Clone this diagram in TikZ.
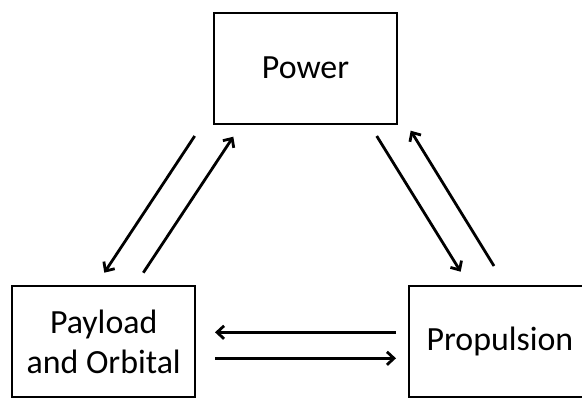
\documentclass[tikz,border=0pt]{standalone}
\usepackage{fontspec}
\setmainfont{Carlito}
\usetikzlibrary{arrows.meta}

\tikzstyle{subsystem}=[draw,line width=2bp,minimum width=183bp,
    minimum height=111bp,inner sep=0pt,align=center,
    font=\fontsize{34}{40}\selectfont]
\tikzstyle{transition}=[line width=2.8bp]
\newcommand{\transition}[3][]{\draw[-{Straight Barb[length=7bp,width=13bp]},transition,#1] (#2)--(#3);}

\begin{document}
\begin{tikzpicture}[x=1bp,y=-1bp]
    \useasboundingbox (0,0) rectangle (582,397);
    \clip (0,0) rectangle (582,397);
    \node[subsystem] (Power) at (305.5,68) {Power};
    \node[subsystem] (Payload) at (103.7,341.5) {Payload\\and Orbital};
    \node[subsystem] (Propulsion) at (500,341.5) {Propulsion};
    %
    \coordinate (PowPayS) at (194.7,136);
    \coordinate (PowPayE) at (104.3,272.7);
    \coordinate (PayPowS) at (143.3,272.7);
    \coordinate (PayPowE) at (233.3,136.7);
    \coordinate (PowProS) at (376.7,136);
    \coordinate (PowProE) at (460.7,271.7);
    \coordinate (ProPowS) at (494,266);
    \coordinate (ProPowE) at (410.7,130.7);
    \coordinate (ProPayS) at (396,332.3);
    \coordinate (ProPayE) at (215,332.3);
    \coordinate (PayProS) at (215,358.3);
    \coordinate (PayProE) at (396,358.3);
    %
    \transition{PowPayS}{PowPayE}
    \transition{PayPowS}{PayPowE}
    \transition{PowProS}{PowProE}
    \transition{ProPowS}{ProPowE}
    \transition{ProPayS}{ProPayE}
    \transition{PayProS}{PayProE}
\end{tikzpicture}
\end{document}
